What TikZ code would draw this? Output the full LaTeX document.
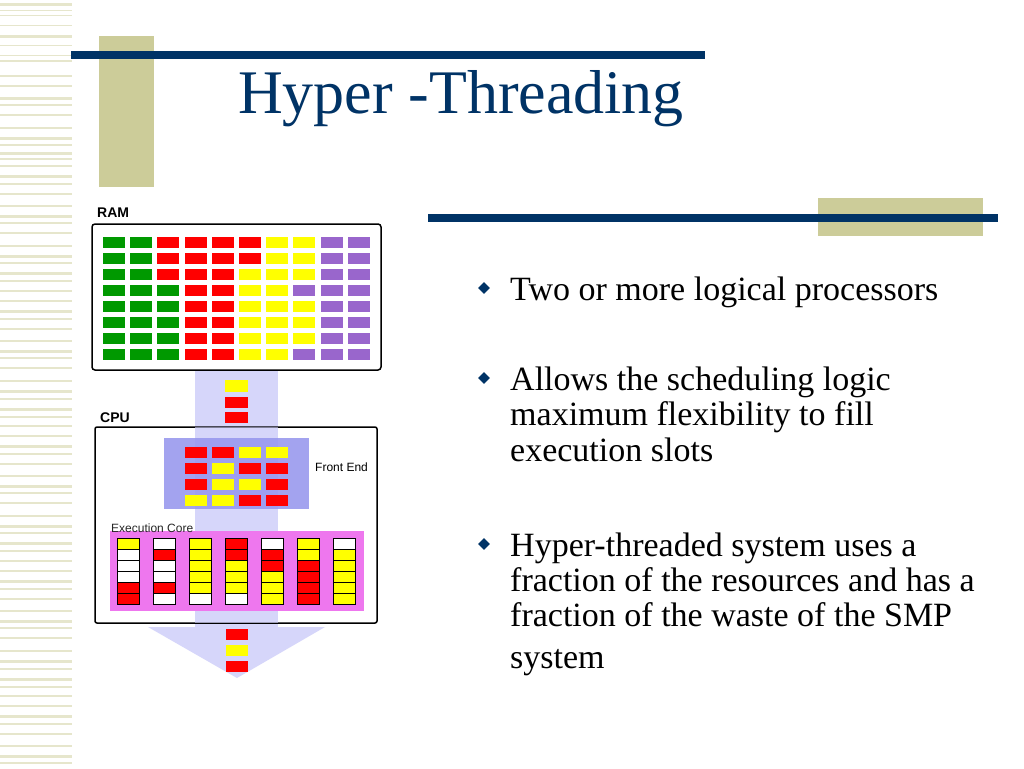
\documentclass[tikz,border=0pt]{standalone}
\usepackage{fontspec}
\setmainfont{Liberation Serif}
\newfontfamily\diag{Liberation Sans}
\definecolor{navy}{HTML}{003366}
\definecolor{beige}{HTML}{CCCC99}
\definecolor{stripe}{HTML}{E6E6CC}
\definecolor{gG}{HTML}{009900}
\definecolor{rR}{HTML}{FF0000}
\definecolor{yY}{HTML}{FFFF00}
\definecolor{pP}{HTML}{9966CC}
\definecolor{wW}{HTML}{FFFFFF}
\definecolor{band}{HTML}{D6D6FA}
\definecolor{fe}{HTML}{9999EE}
\definecolor{ec}{HTML}{EE77EE}
\tikzset{cell/.style={fill=#1,draw=none},
 ecell/.style={fill=#1,draw=black,line width=0.8pt},
 bullet/.style={fill=navy,draw=none,diamond,inner sep=0pt,minimum size=12pt},
 btext/.style={anchor=base west,text=black,font=\fontsize{34}{36}\selectfont,inner sep=0pt},
 lbl/.style={font=\diag\bfseries\fontsize{14}{16}\selectfont,anchor=west,inner sep=0pt},
 slbl/.style={font=\diag\fontsize{12}{14}\selectfont,anchor=west,inner sep=0pt}}
\usetikzlibrary{shapes.geometric}
\begin{document}
\begin{tikzpicture}[x=1pt,y=-1pt]
\useasboundingbox (0,0) rectangle (1024,768);
\fill[white] (0,0) rectangle (1024,768);
% left stripes
\foreach \y/\h in {3/3,10/1.5,15/1.5,25/1.5,35/3,45/1.5,55/1.5,60/1.5,75/1.5,85/1.5,97/3,104/1.5,114/1.5,127/1.5,137/3,144/1.5,152/3,158/1.5,165/1.5,175/3,183/1.5,193/1.5,205/1.5,215/3,222/1.5,232/1.5,245/1.5,255/3,262/1.5,272/3,280/1.5,290/1.5,300/1.5,310/3,318/1.5,328/1.5,340/1.5,350/3,357/1.5,367/1.5,380/1.5,390/3,398/1.5,408/3,416/1.5,425/1.5,435/1.5,445/3,453/1.5,463/1.5,475/1.5,485/3,492/1.5,502/1.5,515/1.5,525/3,532/1.5,542/3,550/1.5,560/1.5,570/1.5,580/3,588/1.5,598/1.5,610/1.5,620/3,627/1.5,637/1.5,650/1.5,660/3,668/1.5,678/3,686/1.5,695/1.5,705/1.5,715/3,723/1.5,733/1.5,745/1.5,755/3,762/1.5}
  \fill[stripe] (0,\y) rectangle (72,\y+\h);
% header
\fill[beige] (99,36) rectangle (154,187);
\fill[navy] (71,51) rectangle (705,59);
\node[text=navy,font=\fontsize{62}{66}\selectfont,inner sep=0pt,anchor=base] (title) at (461,113) {Hyper -Threading};
\fill[beige] (818,198) rectangle (983,236);
\fill[navy] (428,214) rectangle (998,222);
% bullets
\node[bullet] (b1) at (484,288) {};
\node[btext] (t1) at (510,300) {Two or more logical processors};
\node[bullet] (b2) at (484,378) {};
\node[btext] (t2a) at (510,390) {Allows the scheduling logic};
\node[btext] (t2b) at (510,425) {maximum flexibility to fill};
\node[btext] (t2c) at (510,461) {execution slots};
\node[bullet] (b3) at (484,544) {};
\node[btext] (t3a) at (510,556) {Hyper-threaded system uses a};
\node[btext] (t3b) at (510,591) {fraction of the resources and has a};
\node[btext] (t3c) at (510,626) {fraction of the waste of the SMP};
\node[btext] (t3d) at (510,668) {system};
% band and arrow
\fill[band] (195,366) rectangle (278,627);
\fill[band] (148,627) -- (325,627) -- (237,678) -- cycle;
% RAM
\node[lbl] (ramlbl) at (97,213) {RAM};
\draw[line width=1.5pt,rounded corners=3pt,fill=white] (92,224) rectangle (381,370);
\foreach \row [count=\r from 0] in {
 {gG,gG,rR,rR,rR,rR,yY,yY,pP,pP},
 {gG,gG,rR,rR,rR,rR,yY,yY,pP,pP},
 {gG,gG,rR,rR,rR,yY,yY,yY,pP,pP},
 {gG,gG,gG,rR,rR,yY,yY,pP,pP,pP},
 {gG,gG,gG,rR,rR,yY,yY,yY,pP,pP},
 {gG,gG,gG,rR,rR,yY,yY,yY,pP,pP},
 {gG,gG,gG,rR,rR,yY,yY,yY,pP,pP},
 {gG,gG,gG,rR,rR,yY,yY,pP,pP,pP}}
 \foreach \c [count=\k from 0] in \row
  \fill[cell=\c] (103+27.2*\k,237+16*\r) rectangle ++(22,11);
% band cells
\fill[cell=yY] (225,380) rectangle (248,392);
\fill[cell=rR] (225,397) rectangle (248,408);
\fill[cell=rR] (225,412) rectangle (248,423);
% CPU
\node[lbl] (cpulbl) at (100,418) {CPU};
\draw[line width=1.5pt,rounded corners=2pt] (95,427) rectangle (377,623);
\fill[band,opacity=0.6] (195,427) rectangle (278,623);
\fill[fe,opacity=0.9] (164,438) rectangle (309,509);
\foreach \row [count=\r from 0] in {{rR,rR,yY,yY},{rR,yY,rR,rR},{rR,yY,yY,rR},{yY,yY,rR,rR}}
 \foreach \c [count=\k from 0] in \row
  \fill[cell=\c] (185+27*\k,447+16*\r) rectangle ++(22,11);
\node[slbl] (felbl) at (315,467) {Front End};
\fill[ec] (110,531) rectangle (364,611);
\node[slbl,text=black!85] (eclbl) at (111,528) {Execution Core};
\foreach \col [count=\k from 0] in {
 {yY,wW,wW,wW,rR,rR},{wW,rR,wW,wW,rR,wW},{yY,yY,yY,yY,yY,wW},{rR,rR,yY,yY,yY,wW},
 {wW,rR,rR,yY,yY,yY},{yY,yY,rR,rR,rR,rR},{wW,yY,yY,yY,yY,yY}}
 \foreach \c [count=\r from 0] in \col
  \filldraw[ecell=\c] (117+36*\k,538+11*\r) rectangle ++(22,11);
% output cells
\fill[cell=rR] (226,629) rectangle (248,640);
\fill[cell=yY] (226,645) rectangle (248,656);
\fill[cell=rR] (226,661) rectangle (248,672);
\end{tikzpicture}
\end{document}
